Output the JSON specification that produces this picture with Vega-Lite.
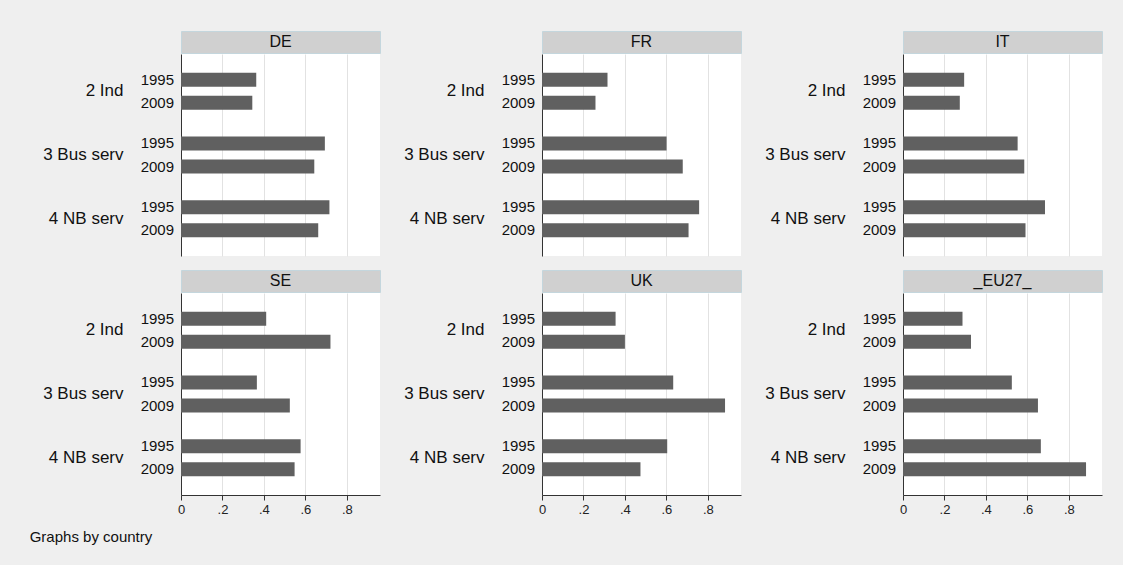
{
  "$schema": "https://vega.github.io/schema/vega-lite/v6.json",
  "background": "#efefef",
  "padding": {"left": 29, "top": 30, "right": 21, "bottom": 21},
  "datasets": {
    "shares": [
      {"country": "DE", "sector": "2 Ind", "year": "1995", "share": 0.363},
      {"country": "DE", "sector": "2 Ind", "year": "2009", "share": 0.344},
      {"country": "DE", "sector": "3 Bus serv", "year": "1995", "share": 0.694},
      {"country": "DE", "sector": "3 Bus serv", "year": "2009", "share": 0.643},
      {"country": "DE", "sector": "4 NB serv", "year": "1995", "share": 0.716},
      {"country": "DE", "sector": "4 NB serv", "year": "2009", "share": 0.662},
      {"country": "FR", "sector": "2 Ind", "year": "1995", "share": 0.316},
      {"country": "FR", "sector": "2 Ind", "year": "2009", "share": 0.258},
      {"country": "FR", "sector": "3 Bus serv", "year": "1995", "share": 0.601},
      {"country": "FR", "sector": "3 Bus serv", "year": "2009", "share": 0.679},
      {"country": "FR", "sector": "4 NB serv", "year": "1995", "share": 0.758},
      {"country": "FR", "sector": "4 NB serv", "year": "2009", "share": 0.707},
      {"country": "IT", "sector": "2 Ind", "year": "1995", "share": 0.295},
      {"country": "IT", "sector": "2 Ind", "year": "2009", "share": 0.274},
      {"country": "IT", "sector": "3 Bus serv", "year": "1995", "share": 0.553},
      {"country": "IT", "sector": "3 Bus serv", "year": "2009", "share": 0.585},
      {"country": "IT", "sector": "4 NB serv", "year": "1995", "share": 0.685},
      {"country": "IT", "sector": "4 NB serv", "year": "2009", "share": 0.591},
      {"country": "SE", "sector": "2 Ind", "year": "1995", "share": 0.411},
      {"country": "SE", "sector": "2 Ind", "year": "2009", "share": 0.721},
      {"country": "SE", "sector": "3 Bus serv", "year": "1995", "share": 0.366},
      {"country": "SE", "sector": "3 Bus serv", "year": "2009", "share": 0.525},
      {"country": "SE", "sector": "4 NB serv", "year": "1995", "share": 0.577},
      {"country": "SE", "sector": "4 NB serv", "year": "2009", "share": 0.548},
      {"country": "UK", "sector": "2 Ind", "year": "1995", "share": 0.355},
      {"country": "UK", "sector": "2 Ind", "year": "2009", "share": 0.400},
      {"country": "UK", "sector": "3 Bus serv", "year": "1995", "share": 0.633},
      {"country": "UK", "sector": "3 Bus serv", "year": "2009", "share": 0.883},
      {"country": "UK", "sector": "4 NB serv", "year": "1995", "share": 0.604},
      {"country": "UK", "sector": "4 NB serv", "year": "2009", "share": 0.475},
      {"country": "_EU27_", "sector": "2 Ind", "year": "1995", "share": 0.287},
      {"country": "_EU27_", "sector": "2 Ind", "year": "2009", "share": 0.328},
      {"country": "_EU27_", "sector": "3 Bus serv", "year": "1995", "share": 0.525},
      {"country": "_EU27_", "sector": "3 Bus serv", "year": "2009", "share": 0.651},
      {"country": "_EU27_", "sector": "4 NB serv", "year": "1995", "share": 0.665},
      {"country": "_EU27_", "sector": "4 NB serv", "year": "2009", "share": 0.883}
    ]
  },
  "data": {"name": "shares"},
  "title": {
    "text": "Graphs by country",
    "orient": "bottom",
    "anchor": "start",
    "frame": "bounds",
    "fontSize": 15,
    "fontWeight": "normal",
    "color": "#111111",
    "offset": 14,
    "dx": -13
  },
  "spacing": 13,
  "vconcat": [
    {
      "columns": 3,
      "spacing": {"row": 0, "column": 22},
      "concat": [
        {"width": 199, "height": 22, "view": {"fill": "#d0d0d0", "stroke": "#c4d6dd"},
         "transform": [{"filter": "datum.country === 'DE'"}, {"aggregate": [{"op": "count", "as": "n"}], "groupby": ["country"]}],
         "mark": {"type": "text", "fontSize": 16, "color": "#111111"},
         "encoding": {"text": {"field": "country"}}},
        {"width": 199, "height": 22, "view": {"fill": "#d0d0d0", "stroke": "#c4d6dd"},
         "transform": [{"filter": "datum.country === 'FR'"}, {"aggregate": [{"op": "count", "as": "n"}], "groupby": ["country"]}],
         "mark": {"type": "text", "fontSize": 16, "color": "#111111"},
         "encoding": {"text": {"field": "country"}}},
        {"width": 199, "height": 22, "view": {"fill": "#d0d0d0", "stroke": "#c4d6dd"},
         "transform": [{"filter": "datum.country === 'IT'"}, {"aggregate": [{"op": "count", "as": "n"}], "groupby": ["country"]}],
         "mark": {"type": "text", "fontSize": 16, "color": "#111111"},
         "encoding": {"text": {"field": "country"}}},
        {"width": 199, "height": 202,
         "transform": [{"filter": "datum.country === 'DE'"}],
         "encoding": {
           "y": {"field": "sector", "type": "nominal", "title": null, "scale": {"paddingInner": 0.2, "paddingOuter": 0.1845}},
           "yOffset": {"field": "year", "type": "nominal", "scale": {"paddingInner": 0.39, "paddingOuter": 0.3}}
         },
         "layer": [
           {"mark": "bar", "encoding": {"x": {"field": "share", "type": "quantitative", "title": null, "scale": {"domain": [0, 0.96], "nice": false}, "axis": {"labels": false, "ticks": false, "domain": false}}}},
           {"mark": {"type": "text", "align": "right", "dx": -7, "fontSize": 15, "color": "#111111"}, "encoding": {"x": {"datum": 0, "type": "quantitative"}, "text": {"field": "year"}}}
         ]},
        {"width": 199, "height": 202,
         "transform": [{"filter": "datum.country === 'FR'"}],
         "encoding": {
           "y": {"field": "sector", "type": "nominal", "title": null, "scale": {"paddingInner": 0.2, "paddingOuter": 0.1845}},
           "yOffset": {"field": "year", "type": "nominal", "scale": {"paddingInner": 0.39, "paddingOuter": 0.3}}
         },
         "layer": [
           {"mark": "bar", "encoding": {"x": {"field": "share", "type": "quantitative", "title": null, "scale": {"domain": [0, 0.96], "nice": false}, "axis": {"labels": false, "ticks": false, "domain": false}}}},
           {"mark": {"type": "text", "align": "right", "dx": -7, "fontSize": 15, "color": "#111111"}, "encoding": {"x": {"datum": 0, "type": "quantitative"}, "text": {"field": "year"}}}
         ]},
        {"width": 199, "height": 202,
         "transform": [{"filter": "datum.country === 'IT'"}],
         "encoding": {
           "y": {"field": "sector", "type": "nominal", "title": null, "scale": {"paddingInner": 0.2, "paddingOuter": 0.1845}},
           "yOffset": {"field": "year", "type": "nominal", "scale": {"paddingInner": 0.39, "paddingOuter": 0.3}}
         },
         "layer": [
           {"mark": "bar", "encoding": {"x": {"field": "share", "type": "quantitative", "title": null, "scale": {"domain": [0, 0.96], "nice": false}, "axis": {"labels": false, "ticks": false, "domain": false}}}},
           {"mark": {"type": "text", "align": "right", "dx": -7, "fontSize": 15, "color": "#111111"}, "encoding": {"x": {"datum": 0, "type": "quantitative"}, "text": {"field": "year"}}}
         ]}
      ]
    },
    {
      "columns": 3,
      "spacing": {"row": 0, "column": 22},
      "concat": [
        {"width": 199, "height": 22, "view": {"fill": "#d0d0d0", "stroke": "#c4d6dd"},
         "transform": [{"filter": "datum.country === 'SE'"}, {"aggregate": [{"op": "count", "as": "n"}], "groupby": ["country"]}],
         "mark": {"type": "text", "fontSize": 16, "color": "#111111"},
         "encoding": {"text": {"field": "country"}}},
        {"width": 199, "height": 22, "view": {"fill": "#d0d0d0", "stroke": "#c4d6dd"},
         "transform": [{"filter": "datum.country === 'UK'"}, {"aggregate": [{"op": "count", "as": "n"}], "groupby": ["country"]}],
         "mark": {"type": "text", "fontSize": 16, "color": "#111111"},
         "encoding": {"text": {"field": "country"}}},
        {"width": 199, "height": 22, "view": {"fill": "#d0d0d0", "stroke": "#c4d6dd"},
         "transform": [{"filter": "datum.country === '_EU27_'"}, {"aggregate": [{"op": "count", "as": "n"}], "groupby": ["country"]}],
         "mark": {"type": "text", "fontSize": 16, "color": "#111111"},
         "encoding": {"text": {"field": "country"}}},
        {"width": 199, "height": 202,
         "transform": [{"filter": "datum.country === 'SE'"}],
         "encoding": {
           "y": {"field": "sector", "type": "nominal", "title": null, "scale": {"paddingInner": 0.2, "paddingOuter": 0.1845}},
           "yOffset": {"field": "year", "type": "nominal", "scale": {"paddingInner": 0.39, "paddingOuter": 0.3}}
         },
         "layer": [
           {"mark": "bar", "encoding": {"x": {"field": "share", "type": "quantitative", "title": null, "scale": {"domain": [0, 0.96], "nice": false}, "axis": {"labelExpr": "datum.value === 0 ? '0' : replace(format(datum.value, '.1f'), '0.', '.')"}}}},
           {"mark": {"type": "text", "align": "right", "dx": -7, "fontSize": 15, "color": "#111111"}, "encoding": {"x": {"datum": 0, "type": "quantitative"}, "text": {"field": "year"}}}
         ]},
        {"width": 199, "height": 202,
         "transform": [{"filter": "datum.country === 'UK'"}],
         "encoding": {
           "y": {"field": "sector", "type": "nominal", "title": null, "scale": {"paddingInner": 0.2, "paddingOuter": 0.1845}},
           "yOffset": {"field": "year", "type": "nominal", "scale": {"paddingInner": 0.39, "paddingOuter": 0.3}}
         },
         "layer": [
           {"mark": "bar", "encoding": {"x": {"field": "share", "type": "quantitative", "title": null, "scale": {"domain": [0, 0.96], "nice": false}, "axis": {"labelExpr": "datum.value === 0 ? '0' : replace(format(datum.value, '.1f'), '0.', '.')"}}}},
           {"mark": {"type": "text", "align": "right", "dx": -7, "fontSize": 15, "color": "#111111"}, "encoding": {"x": {"datum": 0, "type": "quantitative"}, "text": {"field": "year"}}}
         ]},
        {"width": 199, "height": 202,
         "transform": [{"filter": "datum.country === '_EU27_'"}],
         "encoding": {
           "y": {"field": "sector", "type": "nominal", "title": null, "scale": {"paddingInner": 0.2, "paddingOuter": 0.1845}},
           "yOffset": {"field": "year", "type": "nominal", "scale": {"paddingInner": 0.39, "paddingOuter": 0.3}}
         },
         "layer": [
           {"mark": "bar", "encoding": {"x": {"field": "share", "type": "quantitative", "title": null, "scale": {"domain": [0, 0.96], "nice": false}, "axis": {"labelExpr": "datum.value === 0 ? '0' : replace(format(datum.value, '.1f'), '0.', '.')"}}}},
           {"mark": {"type": "text", "align": "right", "dx": -7, "fontSize": 15, "color": "#111111"}, "encoding": {"x": {"datum": 0, "type": "quantitative"}, "text": {"field": "year"}}}
         ]}
      ]
    }
  ],
  "config": {
    "font": "Liberation Sans",
    "view": {"fill": "white", "stroke": null},
    "bar": {"color": "#606060"},
    "axisX": {
      "grid": true,
      "gridColor": "#e2e2e2",
      "values": [0, 0.2, 0.4, 0.6, 0.8],
      "domainColor": "#333333",
      "tickColor": "#333333",
      "tickSize": 5,
      "labelFontSize": 13,
      "labelColor": "#222222",
      "labelPadding": 3,
      "labelFlush": false
    },
    "axisY": {
      "grid": false,
      "ticks": false,
      "domainColor": "#333333",
      "labelFontSize": 17,
      "labelColor": "#111111",
      "labelPadding": 58,
      "zindex": 1
    }
  }
}
